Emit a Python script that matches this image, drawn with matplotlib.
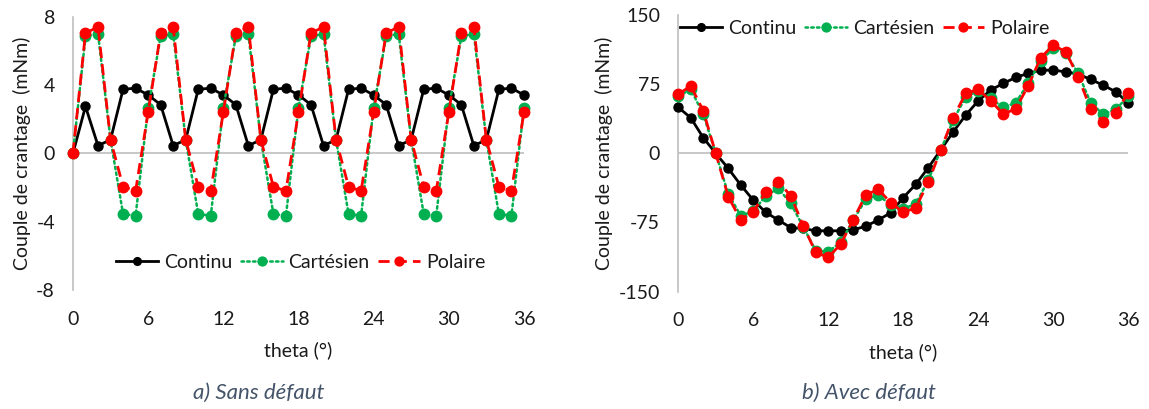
import matplotlib
matplotlib.use("Agg")
import matplotlib.pyplot as plt

plt.rcParams['font.family'] = ['Lato', 'DejaVu Sans']
plt.rcParams['axes.unicode_minus'] = False

theta = list(range(0, 37))
xticks = [0, 6, 12, 18, 24, 30, 36]

# a) Sans défaut
continu_a = [0, 2.75, 0.45, 0.8, 3.75, 3.82, 3.42, 2.85, 0.45, 0.8, 3.75, 3.82, 3.42,
             2.85, 0.45, 0.8, 3.75, 3.82, 3.42, 2.85, 0.45, 0.8, 3.75, 3.82, 3.42,
             2.85, 0.45, 0.8, 3.75, 3.82, 3.42, 2.85, 0.45, 0.8, 3.75, 3.82, 3.42]
cartesien_a = [0, 6.85, 7.0, 0.8, -3.55, -3.65, 2.65, 6.85, 7.0, 0.8, -3.55, -3.65, 2.65,
               6.85, 7.0, 0.8, -3.55, -3.65, 2.65, 6.85, 7.0, 0.8, -3.55, -3.65, 2.65,
               6.85, 7.0, 0.8, -3.55, -3.65, 2.65, 6.85, 7.0, 0.8, -3.55, -3.65, 2.65]
polaire_a = [0, 7.05, 7.4, 0.8, -1.95, -2.2, 2.4, 7.05, 7.4, 0.8, -1.95, -2.2, 2.4,
             7.05, 7.4, 0.8, -1.95, -2.2, 2.4, 7.05, 7.4, 0.8, -1.95, -2.2, 2.4,
             7.05, 7.4, 0.8, -1.95, -2.2, 2.4, 7.05, 7.4, 0.8, -1.95, -2.2, 2.4]
yticks_a = [-8, -4, 0, 4, 8]

# b) Avec défaut
continu_b = [50, 38.6, 17, 0, -16.3, -34.4, -50.7, -64, -72.3, -80.6, -81.5, -84, -84,
             -84, -83, -79, -72.3, -64.4, -48, -33.7, -15.6, 3.6, 23.4, 41.5, 57,
             68.7, 75.9, 82.4, 86.8, 90.3, 90.3, 88.5, 86, 80.2, 74, 66.8, 54.9]
cartesien_b = [62, 69.4, 42.6, 0, -44, -67.6, -63, -46, -38, -54.3, -79.6, -105.5, -106.7,
               -96.5, -72.5, -50, -45.2, -56, -60, -55, -29, 3.6, 36, 61.4, 68,
               59.6, 49.9, 54.9, 75.9, 100.4, 113.9, 108.5, 86.8, 54.9, 42.3, 47.7, 62]
polaire_b = [64, 73.3, 46.2, 0, -47, -72.3, -63.3, -42.3, -30.8, -46, -78.5, -107.5, -112.8,
             -98.5, -72, -45.2, -39, -53.5, -64, -59, -31.5, 3.6, 38.8, 65, 69.4,
             57, 42.6, 48.4, 73.3, 103.7, 117.5, 110.2, 83.1, 48, 34.3, 44, 65.7]
yticks_b = [-150, -75, 0, 75, 150]

labels = ["Continu", "Cartésien", "Polaire"]
captions = ["a) Sans défaut", "b) Avec défaut"]
xlabel = "theta (°)"
ylabel = "Couple de crantage  (mNm)"

BLACK = "#000000"
GREEN = "#00B050"
RED = "#FF0000"
GRID = "#BFBFBF"
TXT = "#1a1a1a"
CAP = "#44546A"

fig = plt.figure(figsize=(11.49, 4.09), dpi=100)
ax1 = fig.add_axes([0.0635, 0.291, 0.3925, 0.668])
ax2 = fig.add_axes([0.5903, 0.287, 0.3916, 0.676])


def draw(ax, c, g, r, yticks):
    ax.plot(theta, c, color=BLACK, lw=2.0, marker='o', ms=6.5, clip_on=False,
            zorder=3, label=labels[0])
    ax.plot(theta, g, color=GREEN, lw=1.8, ls=(0, (1, 1.3)), marker='o', ms=7.5,
            clip_on=False, zorder=4, label=labels[1], dash_capstyle='round')
    ax.plot(theta, r, color=RED, lw=2.0, ls=(0, (4, 2.2)), marker='o', ms=7.5,
            clip_on=False, zorder=5, label=labels[2])
    ax.set_xlim(0, 36)
    ax.set_ylim(yticks[0], yticks[-1])
    ax.set_xticks(xticks)
    ax.set_yticks(yticks)
    for s in ['top', 'right', 'bottom']:
        ax.spines[s].set_visible(False)
    ax.spines['left'].set_color(GRID)
    ax.spines['left'].set_linewidth(1.2)
    ax.axhline(0, color=GRID, lw=1.2, zorder=1)
    ax.tick_params(axis='both', length=0, labelsize=14, labelcolor=TXT)
    ax.tick_params(axis='y', pad=13)
    ax.tick_params(axis='x', pad=15)
    ax.set_xlabel(xlabel, fontsize=14, color=TXT, labelpad=10)
    ax.set_ylabel(ylabel, fontsize=14, color=TXT, labelpad=4)


draw(ax1, continu_a, cartesien_a, polaire_a, yticks_a)
draw(ax2, continu_b, cartesien_b, polaire_b, yticks_b)

leg_kw = dict(ncol=3, frameon=False, fontsize=14, numpoints=1, handlelength=2.15,
              handletextpad=0.3, columnspacing=0.45, labelcolor=TXT, markerscale=0.85)
ax1.legend(loc='center', bbox_to_anchor=(0.505, 0.1), **leg_kw)
ax2.legend(loc='center', bbox_to_anchor=(0.415, 0.952), **leg_kw)

fig.text(259 / 1149, 1 - 393 / 409, captions[0], fontsize=16, style='italic',
         color=CAP, ha='center', va='center')
fig.text(869 / 1149, 1 - 393 / 409, captions[1], fontsize=16, style='italic',
         color=CAP, ha='center', va='center')

fig.savefig("out.png", dpi=100)
